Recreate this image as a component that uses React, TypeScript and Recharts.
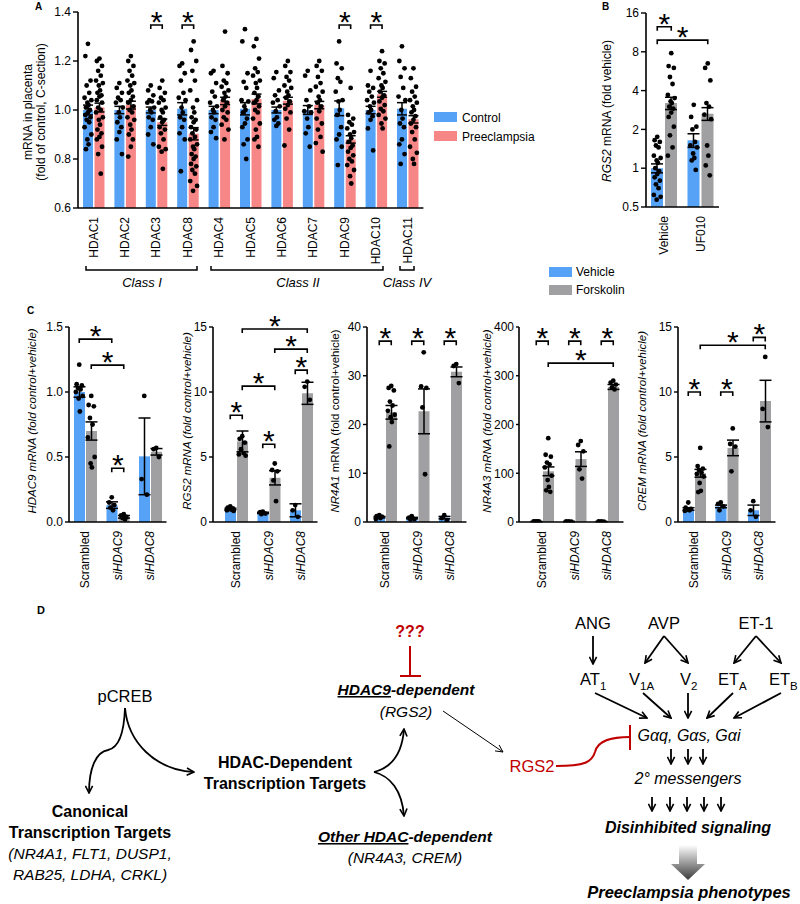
import React from 'react';
import { ComposedChart, Bar, Scatter, XAxis, YAxis, ErrorBar } from 'recharts';

const FONT = '"Liberation Sans", Arial, Helvetica, sans-serif';
const BLUE = '#55a2f6';
const PINK = '#f78686';
const GRAY = '#a0a0a2';
const RED = '#c00000';

// ---------- Panel A data ----------
const hdacGenes = ['HDAC1', 'HDAC2', 'HDAC3', 'HDAC8', 'HDAC4', 'HDAC5', 'HDAC6', 'HDAC7', 'HDAC9', 'HDAC10', 'HDAC11'];
const hdacControlMean = [1.0, 1.0, 1.0, 1.005, 1.0, 1.005, 1.0, 1.0, 1.007, 1.0, 1.005];
const hdacPreeclampsiaMean = [1.01, 1.02, 0.95, 0.903, 1.037, 1.045, 1.038, 1.02, 0.88, 1.064, 0.962];
const hdacControlSem = [0.02, 0.015, 0.012, 0.025, 0.015, 0.025, 0.012, 0.018, 0.03, 0.015, 0.025];
const hdacPreeclampsiaSem = [0.018, 0.016, 0.013, 0.025, 0.015, 0.02, 0.014, 0.015, 0.015, 0.012, 0.015];
const hdacControlPoints = [
  [1.27, 1.22, 1.12, 1.1, 1.07, 1.05, 1.04, 1.03, 1.02, 1.01, 1.0, 0.99, 0.98, 0.97, 0.96, 0.95, 0.93, 0.9, 0.88, 0.86, 0.84],
  [1.11, 1.09, 1.07, 1.05, 1.04, 1.03, 1.01, 0.99, 0.97, 0.95, 0.93, 0.91, 0.88, 0.82],
  [1.1, 1.08, 1.06, 1.04, 1.035, 1.03, 1.01, 1.0, 0.99, 0.97, 0.96, 0.93, 0.9, 0.86],
  [1.19, 1.18, 1.15, 1.12, 1.07, 1.05, 1.04, 1.01, 0.99, 0.97, 0.96, 0.93, 0.905, 0.88, 0.75],
  [1.16, 1.15, 1.11, 1.075, 1.055, 1.03, 1.015, 1.0, 0.99, 0.97, 0.96, 0.93, 0.91, 0.885],
  [1.33, 1.28, 1.15, 1.115, 1.09, 1.04, 1.035, 1.015, 1.0, 0.99, 0.965, 0.945, 0.93, 0.88, 0.86, 0.8],
  [1.155, 1.13, 1.08, 1.06, 1.04, 1.03, 1.015, 0.995, 0.97, 0.96, 0.945, 0.935],
  [1.16, 1.14, 1.08, 1.04, 1.015, 0.995, 0.99, 0.965, 0.93, 0.905, 0.85],
  [1.28, 1.19, 1.17, 1.13, 1.115, 1.075, 1.04, 1.035, 1.0, 0.98, 0.93, 0.9, 0.88, 0.85, 0.775],
  [1.16, 1.1, 1.09, 1.075, 1.055, 1.04, 1.03, 1.015, 1.0, 0.99, 0.975, 0.96, 0.925, 0.835],
  [1.26, 1.2, 1.17, 1.135, 1.09, 1.055, 1.04, 1.0, 0.965, 0.945, 0.93, 0.88, 0.86, 0.82, 0.78],
];
const hdacPreeclampsiaPoints = [
  [1.21, 1.2, 1.18, 1.16, 1.14, 1.12, 1.11, 1.1, 1.08, 1.07, 1.06, 1.055, 1.04, 1.03, 1.01, 1.0, 0.99, 0.97, 0.96, 0.94, 0.92, 0.905, 0.89, 0.88, 0.85, 0.82, 0.74],
  [1.22, 1.2, 1.18, 1.16, 1.14, 1.12, 1.11, 1.1, 1.08, 1.07, 1.055, 1.04, 1.03, 1.015, 1.0, 0.99, 0.97, 0.96, 0.94, 0.92, 0.9, 0.88, 0.85, 0.81],
  [1.12, 1.09, 1.07, 1.05, 1.04, 1.03, 1.01, 1.0, 0.99, 0.97, 0.96, 0.95, 0.93, 0.92, 0.905, 0.88, 0.85, 0.84, 0.83, 0.76],
  [1.28, 1.245, 1.2, 1.16, 1.12, 1.08, 1.04, 1.01, 0.99, 0.97, 0.96, 0.95, 0.93, 0.92, 0.905, 0.89, 0.88, 0.86, 0.85, 0.84, 0.82, 0.81, 0.8, 0.78, 0.77, 0.755, 0.74, 0.71, 0.69, 0.67],
  [1.32, 1.18, 1.15, 1.12, 1.11, 1.095, 1.08, 1.07, 1.055, 1.04, 1.03, 1.015, 1.0, 0.99, 0.97, 0.96, 0.94, 0.92, 0.88],
  [1.29, 1.26, 1.21, 1.17, 1.155, 1.14, 1.12, 1.11, 1.09, 1.07, 1.055, 1.04, 1.03, 1.015, 1.0, 0.99, 0.965, 0.945, 0.92, 0.89, 0.88, 0.85],
  [1.2, 1.18, 1.155, 1.135, 1.12, 1.1, 1.09, 1.075, 1.06, 1.05, 1.035, 1.02, 1.005, 0.99, 0.965, 0.92, 0.855],
  [1.2, 1.18, 1.16, 1.135, 1.11, 1.095, 1.075, 1.055, 1.04, 1.03, 1.015, 0.995, 0.965, 0.945, 0.92, 0.89, 0.865, 0.83],
  [1.09, 0.98, 0.965, 0.95, 0.94, 0.925, 0.91, 0.9, 0.885, 0.87, 0.855, 0.845, 0.83, 0.815, 0.8, 0.79, 0.775, 0.755, 0.73, 0.7],
  [1.24, 1.2, 1.19, 1.17, 1.15, 1.13, 1.115, 1.1, 1.09, 1.075, 1.06, 1.05, 1.035, 1.02, 1.005, 0.995, 0.98, 0.965, 0.945, 0.925],
  [1.17, 1.13, 1.095, 1.075, 1.055, 1.04, 1.03, 1.015, 1.0, 0.99, 0.975, 0.96, 0.945, 0.93, 0.91, 0.88, 0.85, 0.825, 0.8, 0.78],
];
const hdacTicks = [0.6, 0.8, 1.0, 1.2, 1.4];
const hdacBrackets = [[2, -1, 2, 1, 1.347], [3, -1, 3, 1, 1.347], [8, -1, 8, 1, 1.347], [9, -1, 9, 1, 1.347]];

// ---------- Panel B data ----------
const uf010Groups = ['Vehicle', 'UF010'];
const uf010VehicleMean = [1.0, 1.65];
const uf010ForskolinMean = [3.2, 2.65];
const uf010VehicleSem = [0.08, 0.2];
const uf010ForskolinSem = [0.35, 0.3];
const uf010VehiclePoints = [
  [1.75, 1.65, 1.6, 1.5, 1.45, 1.25, 1.2, 1.15, 1.1, 1.0, 0.95, 0.9, 0.85, 0.8, 0.75, 0.7, 0.62, 0.6, 0.57],
  [3.1, 2.5, 2.1, 2.0, 1.6, 1.5, 1.45, 1.3, 1.2, 1.15, 0.97],
];
const uf010ForskolinPoints = [
  [7.8, 6.2, 6.0, 5.1, 4.5, 3.7, 3.5, 3.3, 3.2, 3.0, 2.9, 2.7, 2.5, 2.1, 1.8, 1.45, 1.25],
  [6.5, 6.0, 4.8, 3.2, 3.0, 2.6, 2.4, 1.5, 1.25, 1.05, 0.88],
];
const uf010Ticks = [0.5, 1, 2, 4, 8, 16];
const uf010Brackets = [[0, -1, 0, 1, 12.5], [0, -1, 1, 1, 9.85]];

// ---------- Panel C data ----------
const siGroups = ['Scrambled', 'siHDAC9', 'siHDAC8'];

const hdac9Vehicle = [1.0, 0.13, 0.505];
const hdac9Forskolin = [0.7, 0.04, 0.54];
const hdac9VehicleSem = [0.04, 0.025, 0.295];
const hdac9ForskolinSem = [0.07, 0.01, 0.025];
const hdac9VehiclePts = [[1.21, 1.06, 1.05, 1.03, 1.02, 1.0, 0.97, 0.95, 0.85], [0.19, 0.15, 0.13, 0.11, 0.09], [0.97, 0.33, 0.21]];
const hdac9ForskolinPts = [[0.97, 0.9, 0.89, 0.8, 0.75, 0.65, 0.5, 0.45, 0.42], [0.06, 0.05, 0.04, 0.03, 0.02], [0.57, 0.56, 0.5]];
const hdac9Ticks = [0, 0.5, 1.0, 1.5];
const hdac9Brackets = [[0, -1, 1, -1, 1.407], [0, 1, 1, 1, 1.207], [1, -1, 1, 1, 0.413]];

const rgs2Vehicle = [1.0, 0.7, 0.9];
const rgs2Forskolin = [6.2, 3.4, 9.9];
const rgs2VehicleSem = [0.06, 0.05, 0.5];
const rgs2ForskolinSem = [0.8, 0.55, 0.85];
const rgs2VehiclePts = [[1.2, 1.1, 1.05, 1.0, 0.95, 0.9, 0.85], [0.8, 0.75, 0.65, 0.6], [1.3, 0.9, 0.4]];
const rgs2ForskolinPts = [[6.6, 6.4, 6.1, 5.6, 5.3, 5.2, 5.1], [4.5, 4.0, 3.9, 3.2, 1.6], [10.8, 10.4, 9.4]];
const rgs2Ticks = [0, 5, 10, 15];
const rgs2Brackets = [[0, -1, 0, 1, 8.21], [1, -1, 1, 1, 5.98], [0, 1, 1, 1, 10.45], [2, -1, 2, 1, 11.68], [1, 1, 2, 1, 13.3], [0, 1, 2, 1, 14.85]];

const nr4a1Vehicle = [1.0, 0.8, 0.9];
const nr4a1Forskolin = [22.5, 22.7, 30.8];
const nr4a1VehicleSem = [0.15, 0.15, 0.25];
const nr4a1ForskolinSem = [1.4, 4.6, 1.0];
const nr4a1VehiclePts = [[1.4, 1.2, 1.1, 1.0, 0.8, 0.6], [1.2, 0.9, 0.6, 0.5], [1.4, 0.8, 0.4]];
const nr4a1ForskolinPts = [[27.9, 27.5, 27.0, 24.7, 23.9, 22.8, 22.0, 21.5, 20.5, 15.5], [34.8, 27.8, 27.5, 23.5, 9.8], [32.4, 32.0, 28.5]];
const nr4a1Ticks = [0, 10, 20, 30, 40];
const nr4a1Brackets = [[0, -1, 0, 1, 37.1], [1, -1, 1, 1, 37.1], [2, -1, 2, 1, 37.1]];

const nr4a3Vehicle = [1.0, 1.0, 1.0];
const nr4a3Forskolin = [104, 129, 277];
const nr4a3VehicleSem = [0.1, 0.1, 0.1];
const nr4a3ForskolinSem = [9, 15, 5];
const nr4a3VehiclePts = [[1.3, 1.1, 1.0, 0.9, 0.8], [1.2, 1.0, 0.8], [1.2, 1.0, 0.8]];
const nr4a3ForskolinPts = [[172, 138, 134, 122, 118, 112, 95, 86, 72, 65, 62], [166, 158, 145, 108, 89], [290, 286, 282, 276, 272]];
const nr4a3Ticks = [0, 100, 200, 300, 400];
const nr4a3Brackets = [[0, -1, 0, 1, 371], [1, -1, 1, 1, 371], [2, -1, 2, 1, 371], [0, 1, 2, 1, 326]];

const cremVehicle = [1.0, 1.2, 0.9];
const cremForskolin = [3.75, 5.7, 9.3];
const cremVehicleSem = [0.1, 0.1, 0.4];
const cremForskolinSem = [0.3, 0.6, 1.6];
const cremVehiclePts = [[1.5, 1.1, 1.0, 0.95, 0.9, 0.85], [1.5, 1.4, 1.2, 0.9], [1.6, 0.9, 0.4]];
const cremForskolinPts = [[5.7, 4.3, 4.1, 4.0, 3.8, 3.7, 3.5, 3.0, 2.4, 2.3], [7.2, 6.0, 5.8, 3.9], [12.7, 8.7, 7.3]];
const cremTicks = [0, 5, 10, 15];
const cremBrackets = [[0, -1, 0, 1, 10.0], [1, -1, 1, 1, 10.0], [0, 1, 2, 1, 13.6], [2, -1, 2, 1, 14.2]];

// ---------- helpers ----------
const JITTER = [0, -2.6, 2.6, -1.3, 1.3, -3.4, 3.4, -0.6, 0.6, -2, 2];

type Geo = { left: number; top: number; h: number; padL: number; padR: number; band: number; n: number; dom: [number, number]; off: number; log?: boolean };

const xAt = (g: Geo, i: number, side: number) => g.left + g.padL + (i + 0.5) * g.band + side * g.off;
const yAt = (g: Geo, v: number) => {
  const f = g.log
    ? (Math.log2(v) - Math.log2(g.dom[0])) / (Math.log2(g.dom[1]) - Math.log2(g.dom[0]))
    : (v - g.dom[0]) / (g.dom[1] - g.dom[0]);
  return g.top + (1 - f) * g.h;
};

function RotTick(props: any) {
  const { x, y, payload } = props;
  const s = String(payload?.value ?? '');
  const it = s.startsWith('si');
  return (
    <text x={x} y={y} transform={`rotate(-90 ${x} ${y})`} textAnchor="end" dominantBaseline="central"
      fontSize={12} fill="#000" fontStyle={it ? 'italic' : 'normal'} fontFamily={FONT}>{s}</text>
  );
}

function Dot(props: any) {
  const { cx, cy, payload, side } = props;
  if (cx == null || cy == null || isNaN(cx) || isNaN(cy)) return null;
  const k = payload?.k ?? 0;
  return <circle cx={cx + side + JITTER[k % JITTER.length]} cy={cy} r={2.4} fill="#000" />;
}

type PanelProps = {
  g: Geo; cats: string[]; a: number[]; b: number[]; aErr: number[]; bErr: number[];
  aPts: number[][]; bPts: number[][]; colorB: string; ticks: number[]; fmt: (v: number) => string;
  barSize: number; barGap: number; xAxisH: number; capW: number; tickLen: number;
};

function PanelChart(p: PanelProps) {
  const { g } = p;
  const yW = 44, mt = 6, mr = 2;
  const plotW = g.padL + g.n * g.band + g.padR;
  const data = p.cats.map((c, i) => ({ name: c, a: p.a[i], b: p.b[i], aErr: p.aErr[i], bErr: p.bErr[i] }));
  const pa = p.aPts.flatMap((arr, i) => arr.map((v, k) => ({ x: i + 0.5, y: v, k })));
  const pb = p.bPts.flatMap((arr, i) => arr.map((v, k) => ({ x: i + 0.5, y: v, k })));
  return (
    <div style={{ position: 'absolute', left: g.left - yW, top: g.top - mt }}>
      <ComposedChart width={yW + plotW + mr} height={mt + g.h + p.xAxisH} data={data}
        margin={{ top: mt, right: mr, bottom: 0, left: 0 }} barSize={p.barSize} barGap={p.barGap}>
        <XAxis xAxisId="c" dataKey="name" type="category" interval={0} height={p.xAxisH}
          padding={{ left: g.padL, right: g.padR }} axisLine={{ stroke: '#000', strokeWidth: 1.6 }}
          tickLine={false} tickSize={0} tickMargin={9} tick={(tp: any) => <RotTick {...tp} />} />
        <XAxis xAxisId="n" dataKey="x" type="number" domain={[0, g.n]} allowDataOverflow hide
          padding={{ left: g.padL, right: g.padR }} />
        <YAxis width={yW} type="number" domain={g.dom} scale={g.log ? 'log' : 'linear'} ticks={p.ticks}
          allowDataOverflow interval={0} tickFormatter={p.fmt}
          axisLine={{ stroke: '#000', strokeWidth: 1.6 }} tickLine={{ stroke: '#000', strokeWidth: 1.4 }}
          tickSize={p.tickLen} tickMargin={2} tick={{ fill: '#000', fontSize: 12 }} />
        <Bar xAxisId="c" dataKey="a" fill={BLUE} isAnimationActive={false}>
          <ErrorBar dataKey="aErr" width={p.capW} stroke="#000" strokeWidth={1.5} />
        </Bar>
        <Bar xAxisId="c" dataKey="b" fill={p.colorB} isAnimationActive={false}>
          <ErrorBar dataKey="bErr" width={p.capW} stroke="#000" strokeWidth={1.5} />
        </Bar>
        <Scatter xAxisId="n" data={pa} dataKey="y" isAnimationActive={false}
          shape={(sp: any) => <Dot {...sp} side={-g.off} />} />
        <Scatter xAxisId="n" data={pb} dataKey="y" isAnimationActive={false}
          shape={(sp: any) => <Dot {...sp} side={g.off} />} />
      </ComposedChart>
    </div>
  );
}

function Brackets({ g, list }: { g: Geo; list: number[][] }) {
  return (
    <g>
      {list.map((b, idx) => {
        const x1 = xAt(g, b[0], b[1]);
        const x2 = xAt(g, b[2], b[3]);
        const y = yAt(g, b[4]);
        return (
          <g key={idx}>
            <path d={`M${x1},${y + 4} L${x1},${y} L${x2},${y} L${x2},${y + 4}`} fill="none" stroke="#000" strokeWidth={1.6} />
            <text x={(x1 + x2) / 2} y={y + 7} textAnchor="middle" fontSize={30} fill="#000">*</text>
          </g>
        );
      })}
    </g>
  );
}

const f1 = (v: number) => v.toFixed(1);
const f0 = (v: number) => String(v);
const fLog = (v: number) => (v < 1 ? String(v) : String(Math.round(v)));

const geoA: Geo = { left: 78, top: 12, h: 196, padL: 0, padR: 0, band: 31.4, n: 11, dom: [0.6, 1.4], off: 5.75 };
const geoB: Geo = { left: 646, top: 13, h: 194, padL: 0, padR: 0, band: 36.5, n: 2, dom: [0.5, 16], off: 7, log: true };
const geoC1: Geo = { left: 69, top: 327, h: 195, padL: 0, padR: 0, band: 32.5, n: 3, dom: [0, 1.5], off: 6 };
const geoC2: Geo = { left: 213, top: 327, h: 195, padL: 7, padR: 0, band: 32.5, n: 3, dom: [0, 15], off: 6 };
const geoC3: Geo = { left: 367, top: 327, h: 195, padL: 2, padR: 0, band: 32.5, n: 3, dom: [0, 40], off: 6 };
const geoC4: Geo = { left: 519, top: 327, h: 195, padL: 7, padR: 0, band: 32.5, n: 3, dom: [0, 400], off: 6 };
const geoC5: Geo = { left: 678, top: 327, h: 195, padL: 0, padR: 0, band: 32.5, n: 3, dom: [0, 15], off: 6 };

function RotLabel({ x, y, children, size = 12 }: any) {
  return (
    <text transform={`translate(${x},${y}) rotate(-90)`} textAnchor="middle" dominantBaseline="central" fontSize={size} fill="#000">
      {children}
    </text>
  );
}

function PanelD() {
  const arrow = { fill: 'none', stroke: '#000', strokeWidth: 1.8, markerEnd: 'url(#ah)' } as any;
  return (
    <g>
      <defs>
        <marker id="ah" viewBox="0 0 10 10" refX="9" refY="5" markerWidth="9" markerHeight="9" markerUnits="userSpaceOnUse" orient="auto">
          <path d="M1,1 L9,5 L1,9" fill="none" stroke="#000" strokeWidth="1.8" />
        </marker>
        <marker id="ahThin" viewBox="0 0 10 10" refX="9" refY="5" markerWidth="9" markerHeight="9" markerUnits="userSpaceOnUse" orient="auto">
          <path d="M1,1 L9,5 L1,9" fill="none" stroke="#000" strokeWidth="1" />
        </marker>
        <linearGradient id="blk" x1="0" y1="0" x2="0" y2="1">
          <stop offset="0" stopColor="#ffffff" />
          <stop offset="1" stopColor="#3a3a3a" />
        </linearGradient>
      </defs>
      <text x={37} y={614} fontSize={11} fontWeight="bold">D</text>

      <text x={125} y={702} textAnchor="middle" fontSize={16.5}>pCREB</text>
      <path d="M125,708 C124,735 118,748 108,750 C96,752 89,768 89,793" {...arrow} />
      <path d="M125,708 C128,742 155,770 194,772" {...arrow} />

      <text x={90} y={817} textAnchor="middle" fontSize={16} fontWeight="bold">Canonical</text>
      <text x={90} y={838} textAnchor="middle" fontSize={16} fontWeight="bold">Transcription Targets</text>
      <text x={90} y={859} textAnchor="middle" fontSize={15.5} fontStyle="italic">(NR4A1, FLT1, DUSP1,</text>
      <text x={90} y={880} textAnchor="middle" fontSize={15.5} fontStyle="italic">RAB25, LDHA, CRKL)</text>

      <text x={285} y={768} textAnchor="middle" fontSize={16} fontWeight="bold">HDAC-Dependent</text>
      <text x={285} y={789} textAnchor="middle" fontSize={16} fontWeight="bold">Transcription Targets</text>
      <path d="M374,772 C390,768 402,756 404,729" {...arrow} />
      <path d="M374,772 C390,776 402,790 404,816" {...arrow} />

      <text x={410} y={637} textAnchor="middle" fontSize={16} fontWeight="bold" fill={RED}>???</text>
      <path d="M410,646 L410,676 M400,676 L421,676" stroke={RED} strokeWidth={2} fill="none" />

      <text x={406} y={695} textAnchor="middle" fontSize={15.5} fontWeight="bold" fontStyle="italic">
        <tspan style={{ textDecoration: 'underline' }}>HDAC9</tspan>-dependent
      </text>
      <text x={406} y={717} textAnchor="middle" fontSize={15.5} fontStyle="italic">(RGS2)</text>

      <text x={405} y={842} textAnchor="middle" fontSize={15.5} fontWeight="bold" fontStyle="italic">
        <tspan style={{ textDecoration: 'underline' }}>Other HDAC</tspan>-dependent
      </text>
      <text x={405} y={863} textAnchor="middle" fontSize={15.5} fontStyle="italic">(NR4A3, CREM)</text>

      <path d="M443,711 L503,752" fill="none" stroke="#000" strokeWidth={1} markerEnd="url(#ahThin)" />
      <text x={532} y={772} textAnchor="middle" fontSize={16.5} fill={RED}>RGS2</text>
      <path d="M556,766 C585,766 592,762 595,752 C598,740 612,737 630,737" fill="none" stroke={RED} strokeWidth={2} />
      <path d="M630,725 L630,750" stroke={RED} strokeWidth={2} />

      <text x={593} y={629} textAnchor="middle" fontSize={16.5}>ANG</text>
      <text x={664} y={629} textAnchor="middle" fontSize={16.5}>AVP</text>
      <text x={756} y={629} textAnchor="middle" fontSize={16.5}>ET-1</text>
      <path d="M593,636 L593,664" {...arrow} />
      <path d="M664,636 L645,663" {...arrow} />
      <path d="M664,636 L688,663" {...arrow} />
      <path d="M756,636 L734,663" {...arrow} />
      <path d="M756,636 L781,663" {...arrow} />

      <text x={580} y={685} fontSize={16.5}>AT<tspan fontSize={11.5} dy={5}>1</tspan></text>
      <text x={629} y={685} fontSize={16.5}>V<tspan fontSize={11.5} dy={5}>1A</tspan></text>
      <text x={680} y={685} fontSize={16.5}>V<tspan fontSize={11.5} dy={5}>2</tspan></text>
      <text x={718} y={685} fontSize={16.5}>ET<tspan fontSize={11.5} dy={5}>A</tspan></text>
      <text x={769} y={685} fontSize={16.5}>ET<tspan fontSize={11.5} dy={5}>B</tspan></text>

      <path d="M595,693 L647,718" {...arrow} />
      <path d="M643,693 L671,718" {...arrow} />
      <path d="M688,693 L688,718" {...arrow} />
      <path d="M733,693 L707,718" {...arrow} />
      <path d="M781,693 L734,718" {...arrow} />

      <text x={689} y={741} textAnchor="middle" fontSize={16} fontStyle="italic">Gαq, Gαs, Gαi</text>
      {[671, 688, 703].map((x) => <path key={x} d={`M${x},749 L${x},764`} {...arrow} />)}
      <text x={688} y={784} textAnchor="middle" fontSize={16} fontStyle="italic">2° messengers</text>
      {[652, 670, 687, 704, 721].map((x) => <path key={x} d={`M${x},797 L${x},811`} {...arrow} />)}
      <text x={688} y={833} textAnchor="middle" fontSize={16} fontWeight="bold" fontStyle="italic">Disinhibited signaling</text>
      <path d="M679,845 L697,845 L697,864 L705,864 L688,880 L671,864 L679,864 Z" fill="url(#blk)" />
      <text x={689} y={898} textAnchor="middle" fontSize={16.5} fontWeight="bold" fontStyle="italic">Preeclampsia phenotypes</text>
    </g>
  );
}

export default function App() {
  return (
    <div style={{ position: 'absolute', left: 0, top: 0, width: 800, height: 904, background: '#fff', fontFamily: FONT, overflow: 'hidden' }}>
      <PanelChart g={geoA} cats={hdacGenes} a={hdacControlMean} b={hdacPreeclampsiaMean} aErr={hdacControlSem} bErr={hdacPreeclampsiaSem}
        aPts={hdacControlPoints} bPts={hdacPreeclampsiaPoints} colorB={PINK} ticks={hdacTicks} fmt={f1} barSize={10} barGap={1.5} xAxisH={60} capW={5} tickLen={5} />
      <PanelChart g={geoB} cats={uf010Groups} a={uf010VehicleMean} b={uf010ForskolinMean} aErr={uf010VehicleSem} bErr={uf010ForskolinSem}
        aPts={uf010VehiclePoints} bPts={uf010ForskolinPoints} colorB={GRAY} ticks={uf010Ticks} fmt={fLog} barSize={12} barGap={2} xAxisH={60} capW={6} tickLen={5} />
      <PanelChart g={geoC1} cats={siGroups} a={hdac9Vehicle} b={hdac9Forskolin} aErr={hdac9VehicleSem} bErr={hdac9ForskolinSem}
        aPts={hdac9VehiclePts} bPts={hdac9ForskolinPts} colorB={GRAY} ticks={hdac9Ticks} fmt={f1} barSize={11} barGap={1} xAxisH={66} capW={6} tickLen={4} />
      <PanelChart g={geoC2} cats={siGroups} a={rgs2Vehicle} b={rgs2Forskolin} aErr={rgs2VehicleSem} bErr={rgs2ForskolinSem}
        aPts={rgs2VehiclePts} bPts={rgs2ForskolinPts} colorB={GRAY} ticks={rgs2Ticks} fmt={f0} barSize={11} barGap={1} xAxisH={66} capW={6} tickLen={4} />
      <PanelChart g={geoC3} cats={siGroups} a={nr4a1Vehicle} b={nr4a1Forskolin} aErr={nr4a1VehicleSem} bErr={nr4a1ForskolinSem}
        aPts={nr4a1VehiclePts} bPts={nr4a1ForskolinPts} colorB={GRAY} ticks={nr4a1Ticks} fmt={f0} barSize={11} barGap={1} xAxisH={66} capW={6} tickLen={4} />
      <PanelChart g={geoC4} cats={siGroups} a={nr4a3Vehicle} b={nr4a3Forskolin} aErr={nr4a3VehicleSem} bErr={nr4a3ForskolinSem}
        aPts={nr4a3VehiclePts} bPts={nr4a3ForskolinPts} colorB={GRAY} ticks={nr4a3Ticks} fmt={f0} barSize={11} barGap={1} xAxisH={66} capW={6} tickLen={3} />
      <PanelChart g={geoC5} cats={siGroups} a={cremVehicle} b={cremForskolin} aErr={cremVehicleSem} bErr={cremForskolinSem}
        aPts={cremVehiclePts} bPts={cremForskolinPts} colorB={GRAY} ticks={cremTicks} fmt={f0} barSize={11} barGap={1} xAxisH={66} capW={6} tickLen={4} />

      <svg width={800} height={904} style={{ position: 'absolute', left: 0, top: 0, pointerEvents: 'none', fontFamily: FONT }}>
        {/* Panel A annotations */}
        <text x={35} y={10} fontSize={10} fontWeight="bold">A</text>
        <RotLabel x={28} y={112}>mRNA in placenta</RotLabel>
        <RotLabel x={41} y={112}>(fold of control, C-section)</RotLabel>
        <Brackets g={geoA} list={hdacBrackets} />
        <path d="M86,266 L86,270 L197,270 L197,266" fill="none" stroke="#000" strokeWidth={1.5} />
        <path d="M211,266 L211,270 L383,270 L383,266" fill="none" stroke="#000" strokeWidth={1.5} />
        <path d="M400,266 L400,270 L414,270 L414,266" fill="none" stroke="#000" strokeWidth={1.5} />
        <text x={142} y={287} textAnchor="middle" fontSize={13} fontStyle="italic">Class I</text>
        <text x={298} y={287} textAnchor="middle" fontSize={13} fontStyle="italic">Class II</text>
        <text x={407} y={287} textAnchor="middle" fontSize={13} fontStyle="italic">Class IV</text>
        <rect x={434} y={112} width={23} height={10} fill={BLUE} />
        <text x={462} y={122} fontSize={12}>Control</text>
        <rect x={434} y={131} width={23} height={10} fill={PINK} />
        <text x={462} y={141} fontSize={12}>Preeclampsia</text>

        {/* Panel B annotations */}
        <text x={602} y={10} fontSize={10} fontWeight="bold">B</text>
        <RotLabel x={607} y={111}><tspan fontStyle="italic">RGS2</tspan> mRNA (fold vehicle)</RotLabel>
        <Brackets g={geoB} list={uf010Brackets} />

        {/* Legend C */}
        <rect x={549} y={267} width={23} height={10} fill={BLUE} />
        <text x={576} y={276} fontSize={12}>Vehicle</text>
        <rect x={549} y={285} width={23} height={10} fill={GRAY} />
        <text x={576} y={294} fontSize={12}>Forskolin</text>

        {/* Panel C annotations */}
        <text x={27} y={314} fontSize={10} fontWeight="bold">C</text>
        <RotLabel x={32} y={421} size={11.5}><tspan fontStyle="italic">HDAC9 mRNA (fold control+vehicle)</tspan></RotLabel>
        <RotLabel x={187} y={421} size={11.5}><tspan fontStyle="italic">RGS2 mRNA (fold control+vehicle)</tspan></RotLabel>
        <RotLabel x={335} y={421} size={11.5}><tspan fontStyle="italic">NR4A1</tspan> mRNA (fold control+vehicle)</RotLabel>
        <RotLabel x={487} y={421} size={11.5}><tspan fontStyle="italic">NR4A3 mRNA (fold control+vehicle)</tspan></RotLabel>
        <RotLabel x={642} y={421} size={11.5}><tspan fontStyle="italic">CREM mRNA (fold control+vehicle)</tspan></RotLabel>
        <Brackets g={geoC1} list={hdac9Brackets} />
        <Brackets g={geoC2} list={rgs2Brackets} />
        <Brackets g={geoC3} list={nr4a1Brackets} />
        <Brackets g={geoC4} list={nr4a3Brackets} />
        <Brackets g={geoC5} list={cremBrackets} />

        <PanelD />
      </svg>
    </div>
  );
}
